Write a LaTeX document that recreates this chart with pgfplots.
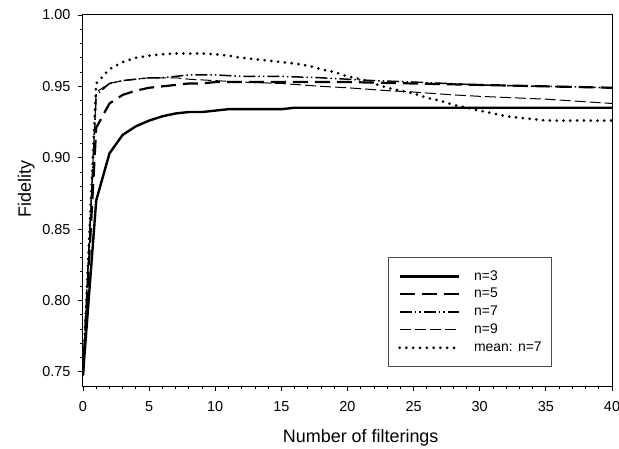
\documentclass[border=0pt]{standalone}
\usepackage{fontspec}
\setmainfont{Liberation Sans}
\usepackage{pgfplots}
\pgfplotsset{compat=1.18}
\usepackage{pgfplotstable}

\pgfplotstableread{
x y
0 0.748
1 0.870
2 0.903
3 0.916
4 0.922
5 0.926
6 0.929
7 0.931
8 0.932
9 0.932
10 0.933
11 0.934
15 0.934
16 0.935
40 0.935
}\nthree
\pgfplotstableread{
x y
0 0.748
1 0.921
2 0.938
3 0.944
4 0.947
5 0.949
6 0.950
7 0.951
8 0.952
9 0.952
10 0.953
15 0.953
20 0.953
25 0.952
30 0.951
35 0.950
40 0.949
}\nfive
\pgfplotstableread{
x y
0 0.748
1 0.944
2 0.952
3 0.954
4 0.955
5 0.956
6 0.956
7 0.957
8 0.958
9 0.958
10 0.958
12 0.957
15 0.957
18 0.956
20 0.955
22 0.954
25 0.953
30 0.951
35 0.950
40 0.949
}\nseven
\pgfplotstableread{
x y
0 0.748
1 0.946
2 0.952
3 0.954
4 0.955
5 0.956
6 0.956
7 0.956
8 0.955
10 0.954
12 0.953
15 0.952
18 0.950
20 0.949
23 0.947
25 0.946
28 0.944
30 0.943
35 0.941
40 0.938
}\nnine
\pgfplotstableread{
x y
0 0.748
1 0.952
2 0.962
3 0.967
4 0.970
5 0.9715
6 0.9725
7 0.973
8 0.973
9 0.973
10 0.9725
11 0.9715
12 0.970
13 0.969
14 0.968
15 0.967
16 0.966
17 0.9645
18 0.962
19 0.960
20 0.957
21 0.955
22 0.952
23 0.949
24 0.947
25 0.945
26 0.942
27 0.940
28 0.937
29 0.935
30 0.933
31 0.931
32 0.929
33 0.928
34 0.927
35 0.926
40 0.926
}\meanseven

\begin{document}
\begin{tikzpicture}
\path[use as bounding box] (-83bp,-63bp) rectangle (536bp,386bp);
\begin{axis}[
  scale only axis,
  width=529bp, height=371bp,
  xmin=0, xmax=40, ymin=0.74, ymax=1.00,
  xtick={0,5,...,40},
  ytick={0.75,0.80,0.85,0.90,0.95,1.00},
  minor x tick num=4,
  minor y tick num=4,
  tick align=outside,
  xtick pos=bottom, ytick pos=left,
  major tick length=5bp, minor tick length=3bp,
  every tick/.style={black, line width=0.8bp},
  axis line style={line width=1bp},
  /pgf/number format/assume math mode=true,
  y tick label style={/pgf/number format/fixed, /pgf/number format/fixed zerofill, /pgf/number format/precision=2, xshift=-4bp},
  tick label style={font=\fontsize{14.5}{16}\selectfont},
  x tick label style={yshift=-7bp},
  xlabel={Number of filterings},
  ylabel={Fidelity},
  label style={font=\fontsize{18}{20}\selectfont},
  xlabel style={at={(axis description cs:0.525,0)}, anchor=base, yshift=-56bp},
  ylabel style={at={(axis description cs:0,0.531)}, anchor=base, yshift=52bp},
  legend style={at={(axis description cs:0.576,0.347)}, anchor=north west,
    draw=black!70, line width=0.8bp, inner xsep=10bp, inner ysep=10bp,
    font=\fontsize{14}{16}\selectfont,
    nodes={inner xsep=0bp, inner ysep=2.4bp, text height=10bp, text depth=3bp},
    column sep=14bp},
  legend cell align=left,
  legend image code/.code={\draw[#1] (0bp,0bp) -- (59bp,0bp);},
]
\addplot[black, line width=2.4bp] table {\nthree};
\addlegendentry{n=3}
\addplot[black, line width=2.2bp, dash pattern=on 15bp off 7bp] table {\nfive};
\addlegendentry{n=5}
\addplot[black, line width=1.5bp, dash pattern=on 12bp off 3bp on 1.5bp off 3bp on 1.5bp off 3bp] table {\nseven};
\addlegendentry{n=7}
\addplot[black, line width=1bp, dash pattern=on 11bp off 4bp] table {\nnine};
\addlegendentry{n=9}
\addplot[black, line width=3bp, line cap=round, dash pattern=on 0bp off 6.8bp] table {\meanseven};
\addlegendentry{mean: n=7}
\end{axis}
\end{tikzpicture}
\end{document}
